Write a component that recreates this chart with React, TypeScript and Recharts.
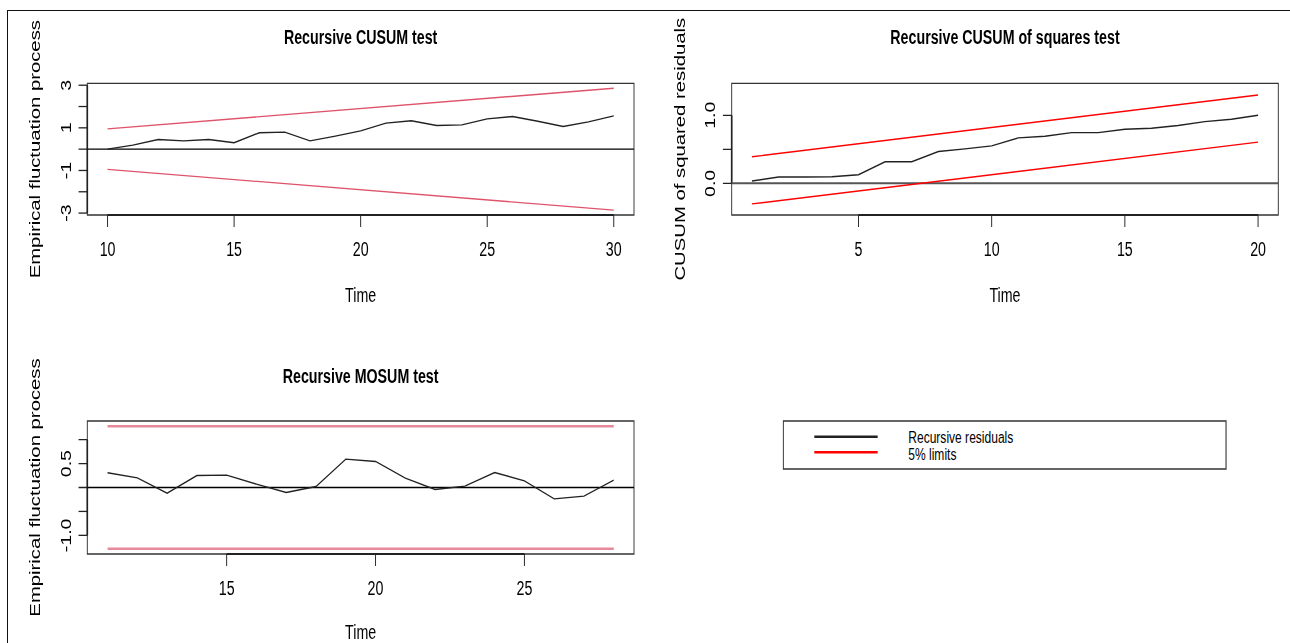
import { LineChart, Line, XAxis, YAxis, ReferenceLine, ReferenceArea } from 'recharts';

// the source picture is an R plot squeezed horizontally; draw wide and squeeze the same way
const SQUEEZE = 0.73;
const WIDE = 1290 / SQUEEZE;
const FONT = '"Liberation Sans", Arial, Helvetica, sans-serif';

// Recursive CUSUM test
const cusumTime = [10, 11, 12, 13, 14, 15, 16, 17, 18, 19, 20, 21, 22, 23, 24, 25, 26, 27, 28, 29, 30];
const cusumValues = [0, 0.19, 0.45, 0.39, 0.45, 0.3, 0.77, 0.8, 0.39, 0.61, 0.86, 1.22, 1.33, 1.11, 1.14, 1.42, 1.53, 1.31, 1.06, 1.28, 1.56];
const cusumLimitTime = [10, 30];
const cusumUpper = [0.95, 2.86];
const cusumLower = [-0.95, -2.86];
const cusumXTicks = [10, 15, 20, 25, 30];
const cusumYTicks = [-3, -2, -1, 0, 1, 2, 3];
const cusumYLabels = [-3, -1, 1, 3];

// Recursive CUSUM of squares test
const sqTime = [1, 2, 3, 4, 5, 6, 7, 8, 9, 10, 11, 12, 13, 14, 15, 16, 17, 18, 19, 20];
const sqValues = [0.034, 0.093, 0.093, 0.098, 0.127, 0.317, 0.317, 0.468, 0.507, 0.551, 0.668, 0.693, 0.746, 0.746, 0.795, 0.81, 0.849, 0.907, 0.941, 1.0];
const sqLimitTime = [1, 20];
const sqUpper = [0.39, 1.298];
const sqLower = [-0.302, 0.605];
const sqXTicks = [5, 10, 15, 20];
const sqYTicks = [0, 0.5, 1];
const sqYLabels = [0, 1];

// Recursive MOSUM test
const mosumTime = [11, 12, 13, 14, 15, 16, 17, 18, 19, 20, 21, 22, 23, 24, 25, 26, 27, 28];
const mosumValues = [0.307, 0.202, -0.119, 0.251, 0.258, 0.07, -0.105, 0.021, 0.593, 0.544, 0.195, -0.042, 0.028, 0.314, 0.139, -0.237, -0.181, 0.153];
const mosumLimitTime = [11, 28];
const mosumUpper = [1.28, 1.28];
const mosumLower = [-1.28, -1.28];
const mosumXTicks = [15, 20, 25];
const mosumYTicks = [-1, -0.5, 0, 0.5, 1];
const mosumYLabels = [-1, 0.5];

const legendItems = [
  { label: 'Recursive residuals', color: '#222222' },
  { label: '5% limits', color: '#ff0000' },
];

const toPoints = (ts: number[], vs: number[]) => ts.map((t, i) => ({ t, v: vs[i] }));

function XTick({ x, y, payload }: any) {
  return (
    <text x={x} y={y + 29.5} textAnchor="middle" fontSize={19.5} fontFamily={FONT} fill="#000">
      {payload.value}
    </text>
  );
}

function makeYTick(labels: number[], digits: number) {
  return ({ x, y, payload }: any) => {
    if (!labels.includes(payload.value)) return <g />;
    const bx = x - 11;
    return (
      <text
        x={bx}
        y={y}
        transform={`rotate(-90 ${bx} ${y})`}
        textAnchor="middle"
        fontSize={19.5}
        fontFamily={FONT}
        fill="#000"
      >
        {payload.value.toFixed(digits)}
      </text>
    );
  };
}

interface PanelProps {
  left: number;
  top: number;
  width: number;
  height: number;
  marginTop: number;
  marginRight: number;
  yAxisWidth: number;
  xAxisHeight: number;
  xDomain: [number, number];
  yDomain: [number, number];
  xTicks: number[];
  yTicks: number[];
  yLabels: number[];
  digits: number;
  values: { t: number; v: number }[];
  upper: { t: number; v: number }[];
  lower: { t: number; v: number }[];
  limitColor: string;
  limitWidth: number;
  zeroColor: string;
  zeroWidth: number;
}

function Panel(p: PanelProps) {
  const [x0, x1] = p.xDomain;
  const [y0, y1] = p.yDomain;
  return (
    <div style={{ position: 'absolute', left: p.left, top: p.top }}>
      <LineChart
        width={p.width}
        height={p.height}
        margin={{ top: p.marginTop, right: p.marginRight, bottom: 0, left: 0 }}
      >
        <XAxis
          dataKey="t"
          type="number"
          domain={p.xDomain}
          ticks={p.xTicks}
          allowDataOverflow
          axisLine={false}
          tickLine={{ stroke: '#222', strokeWidth: 1.3 }}
          tickSize={12}
          tickMargin={0}
          height={p.xAxisHeight}
          tick={<XTick />}
          interval={0}
        />
        <YAxis
          type="number"
          domain={p.yDomain}
          ticks={p.yTicks}
          allowDataOverflow
          axisLine={false}
          tickLine={{ stroke: '#222', strokeWidth: 1.3 }}
          tickSize={12}
          tickMargin={0}
          width={p.yAxisWidth}
          tick={makeYTick(p.yLabels, p.digits)}
          interval={0}
        />
        <ReferenceArea
          x1={x0}
          x2={x1}
          y1={y0}
          y2={y1}
          fill="none"
          stroke="#333"
          strokeWidth={1.3}
          ifOverflow="visible"
        />
        <ReferenceLine
          segment={[{ x: p.xTicks[0], y: y0 }, { x: p.xTicks[p.xTicks.length - 1], y: y0 }]}
          stroke="#222"
          strokeWidth={2.2}
          ifOverflow="visible"
        />
        <ReferenceLine
          segment={[{ x: x0, y: p.yTicks[0] }, { x: x0, y: p.yTicks[p.yTicks.length - 1] }]}
          stroke="#222"
          strokeWidth={2.2}
          ifOverflow="visible"
        />
        <ReferenceLine y={0} stroke={p.zeroColor} strokeWidth={p.zeroWidth} />
        <Line data={p.upper} dataKey="v" stroke={p.limitColor} strokeWidth={p.limitWidth} dot={false} isAnimationActive={false} />
        <Line data={p.lower} dataKey="v" stroke={p.limitColor} strokeWidth={p.limitWidth} dot={false} isAnimationActive={false} />
        <Line data={p.values} dataKey="v" stroke="#222" strokeWidth={1.4} dot={false} isAnimationActive={false} />
      </LineChart>
    </div>
  );
}

const textStyle = { fontFamily: FONT, fill: '#000' };

export default function App() {
  return (
    <div style={{ position: 'absolute', left: 0, top: 0, width: 1290, height: 643, overflow: 'hidden', background: '#fff' }}>
      <div
        style={{
          position: 'absolute',
          left: 6.5,
          top: 9.5,
          width: 1300,
          height: 700,
          borderTop: '1.5px solid #111',
          borderLeft: '1.5px solid #111',
        }}
      />
      <div
        style={{
          position: 'absolute',
          left: 0,
          top: 0,
          width: WIDE,
          height: 643,
          transform: `scaleX(${SQUEEZE})`,
          transformOrigin: '0 0',
        }}
      >
        <Panel
          left={0}
          top={0}
          width={880}
          height={300}
          marginTop={83.3}
          marginRight={11.5}
          yAxisWidth={119.6}
          xAxisHeight={85}
          xDomain={[9.2, 30.8]}
          yDomain={[-3.09, 3.09]}
          xTicks={cusumXTicks}
          yTicks={cusumYTicks}
          yLabels={cusumYLabels}
          digits={0}
          values={toPoints(cusumTime, cusumValues)}
          upper={toPoints(cusumLimitTime, cusumUpper)}
          lower={toPoints(cusumLimitTime, cusumLower)}
          limitColor="#df536b"
          limitWidth={1.4}
          zeroColor="#000"
          zeroWidth={1.3}
        />
        <Panel
          left={880}
          top={0}
          width={887}
          height={300}
          marginTop={83.3}
          marginRight={15.9}
          yAxisWidth={122.3}
          xAxisHeight={85}
          xDomain={[0.24, 20.76]}
          yDomain={[-0.465, 1.47]}
          xTicks={sqXTicks}
          yTicks={sqYTicks}
          yLabels={sqYLabels}
          digits={1}
          values={toPoints(sqTime, sqValues)}
          upper={toPoints(sqLimitTime, sqUpper)}
          lower={toPoints(sqLimitTime, sqLower)}
          limitColor="#ff0000"
          limitWidth={1.4}
          zeroColor="#555"
          zeroWidth={2}
        />
        <Panel
          left={0}
          top={320}
          width={880}
          height={320}
          marginTop={101}
          marginRight={11.5}
          yAxisWidth={119.6}
          xAxisHeight={86}
          xDomain={[10.32, 28.68]}
          yDomain={[-1.39, 1.39]}
          xTicks={mosumXTicks}
          yTicks={mosumYTicks}
          yLabels={mosumYLabels}
          digits={1}
          values={toPoints(mosumTime, mosumValues)}
          upper={toPoints(mosumLimitTime, mosumUpper)}
          lower={toPoints(mosumLimitTime, mosumLower)}
          limitColor="#e6899b"
          limitWidth={2.6}
          zeroColor="#000"
          zeroWidth={1.3}
        />
        <svg width={WIDE} height={643} style={{ position: 'absolute', left: 0, top: 0, pointerEvents: 'none' }}>
          <text x={494} y={44} textAnchor="middle" fontSize={19.5} fontWeight="bold" style={textStyle}>
            Recursive CUSUM test
          </text>
          <text x={1376.7} y={44} textAnchor="middle" fontSize={19.5} fontWeight="bold" style={textStyle}>
            Recursive CUSUM of squares test
          </text>
          <text x={494} y={383} textAnchor="middle" fontSize={19.5} fontWeight="bold" style={textStyle}>
            Recursive MOSUM test
          </text>
          <text x={494} y={302} textAnchor="middle" fontSize={19.5} style={textStyle}>Time</text>
          <text x={1376.7} y={302} textAnchor="middle" fontSize={19.5} style={textStyle}>Time</text>
          <text x={494} y={639} textAnchor="middle" fontSize={19.5} style={textStyle}>Time</text>
          <text x={55} y={149.2} transform="rotate(-90 55 149.2)" textAnchor="middle" fontSize={20.3} style={textStyle}>
            Empirical fluctuation process
          </text>
          <text x={938.4} y={149.2} transform="rotate(-90 938.4 149.2)" textAnchor="middle" fontSize={20.3} style={textStyle}>
            CUSUM of squared residuals
          </text>
          <text x={55} y={487.5} transform="rotate(-90 55 487.5)" textAnchor="middle" fontSize={20.3} style={textStyle}>
            Empirical fluctuation process
          </text>
          <rect x={1073} y={421} width={606.5} height={48} fill="#fff" stroke="#333" strokeWidth={1.5} />
          {legendItems.map((item, i) => (
            <g key={item.label}>
              <line x1={1115.5} x2={1202.3} y1={436.7 + i * 15.6} y2={436.7 + i * 15.6} stroke={item.color} strokeWidth={2.5} />
              <text x={1244.2} y={443.3 + i * 16.5} fontSize={16.5} style={textStyle}>
                {item.label}
              </text>
            </g>
          ))}
        </svg>
      </div>
    </div>
  );
}
